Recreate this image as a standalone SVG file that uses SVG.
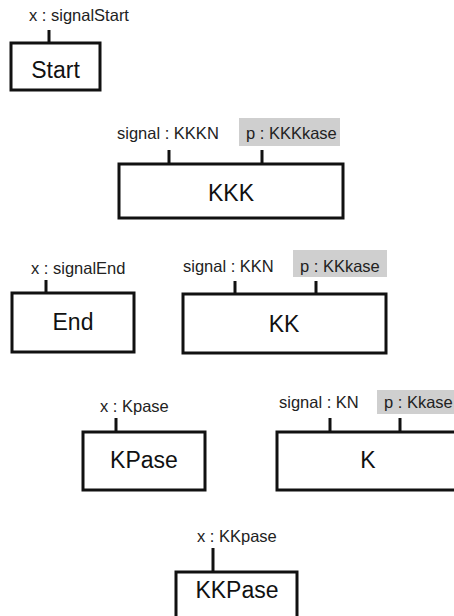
<svg xmlns="http://www.w3.org/2000/svg" width="454" height="616" viewBox="0 0 454 616">
<style>
.box{fill:#fff;stroke:#111;stroke-width:3}
.tick{stroke:#111;stroke-width:3}
.lbl{font-family:"Liberation Sans",Arial,sans-serif;font-size:16.5px;fill:#222}
.name{font-family:"Liberation Sans",Arial,sans-serif;font-size:23px;fill:#111;text-anchor:middle}
.hl{fill:#cfcfcf}
</style>
<rect width="454" height="616" fill="#fff"/>
<g id="connectors">
<line class="tick" x1="49" y1="30" x2="49" y2="43"/>
<line class="tick" x1="169" y1="150" x2="169" y2="164"/>
<line class="tick" x1="262" y1="150" x2="262" y2="164"/>
<line class="tick" x1="46" y1="280" x2="46" y2="293"/>
<line class="tick" x1="235" y1="281" x2="235" y2="294"/>
<line class="tick" x1="316" y1="281" x2="316" y2="294"/>
<line class="tick" x1="116" y1="418" x2="116" y2="432"/>
<line class="tick" x1="330" y1="418" x2="330" y2="432"/>
<line class="tick" x1="400" y1="418" x2="400" y2="432"/>
<line class="tick" x1="213" y1="548" x2="213" y2="572"/>
</g>
<g id="start">
<text class="lbl" x="29" y="21">x : signalStart</text>
<rect class="box" x="11" y="43" width="89" height="47"/>
<text class="name" x="55.5" y="78">Start</text>
</g>
<g id="kkk">
<text class="lbl" x="117" y="139">signal : KKKN</text>
<rect class="hl" x="239" y="118" width="101" height="28"/>
<text class="lbl" x="246" y="139">p : KKKkase</text>
<rect class="box" x="119" y="164" width="224" height="54"/>
<text class="name" x="231" y="201">KKK</text>
</g>
<g id="end">
<text class="lbl" x="31" y="274">x : signalEnd</text>
<rect class="box" x="12" y="293" width="122" height="59"/>
<text class="name" x="73" y="330">End</text>
</g>
<g id="kk">
<text class="lbl" x="183" y="272">signal : KKN</text>
<rect class="hl" x="293" y="250" width="94" height="27"/>
<text class="lbl" x="300" y="272">p : KKkase</text>
<rect class="box" x="183" y="294" width="203" height="59"/>
<text class="name" x="284" y="332">KK</text>
</g>
<g id="kpase">
<text class="lbl" x="100" y="412">x : Kpase</text>
<rect class="box" x="83" y="432" width="122" height="58"/>
<text class="name" x="144" y="468">KPase</text>
</g>
<g id="k">
<text class="lbl" x="279" y="408">signal : KN</text>
<rect class="hl" x="377" y="390" width="80" height="24"/>
<text class="lbl" x="384" y="408">p : Kkase</text>
<rect class="box" x="277" y="432" width="190" height="58"/>
<text class="name" x="368" y="468">K</text>
</g>
<g id="kkpase">
<text class="lbl" x="197" y="542">x : KKpase</text>
<rect class="box" x="176" y="572" width="121" height="60"/>
<text class="name" x="237" y="598">KKPase</text>
</g>
</svg>
